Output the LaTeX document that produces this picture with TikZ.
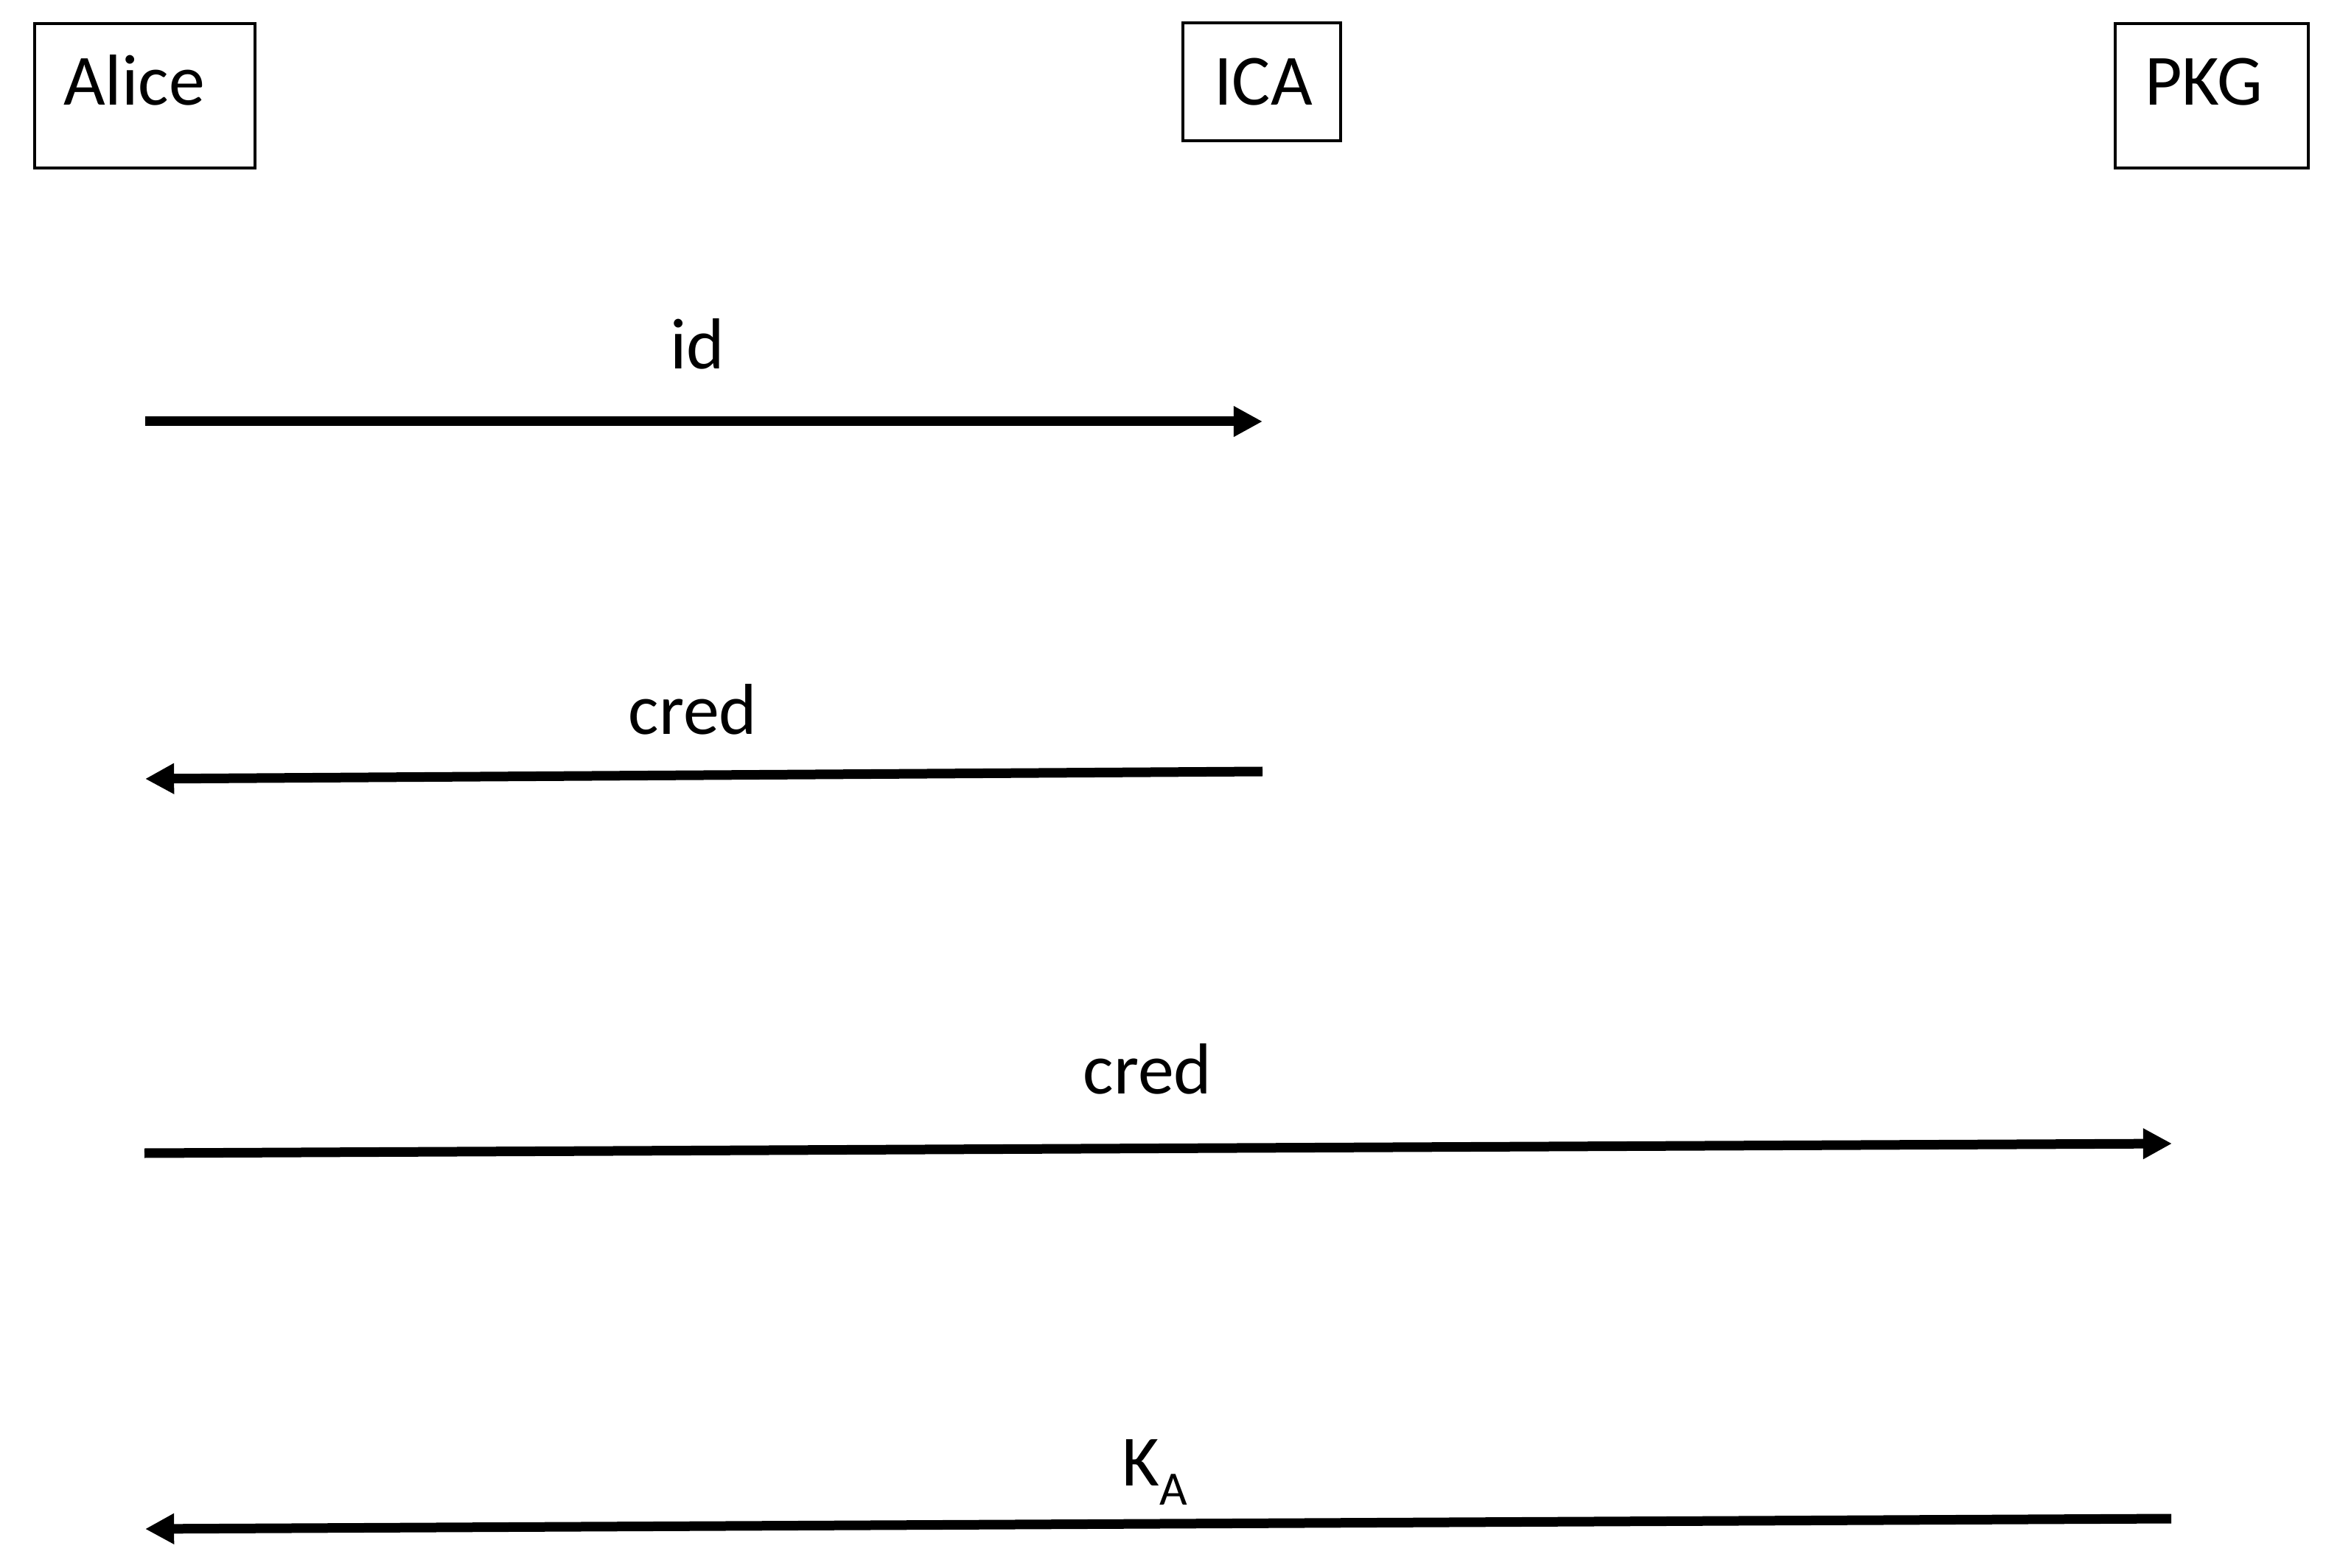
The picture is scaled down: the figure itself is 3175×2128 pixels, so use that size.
\documentclass[tikz,border=0pt]{standalone}
\usepackage{fontspec}
\setmainfont{Carlito}
\usetikzlibrary{arrows.meta}
\begin{document}
\begin{tikzpicture}[x=0.24pt,y=-0.24pt,
  actorbox/.style={draw=black,line width=0.96pt,rectangle,inner sep=0pt},
  lbl/.style={inner sep=0pt,anchor=base,font=\fontsize{23.5pt}{28pt}\selectfont},
  msg/.style={line width=3.12pt,-{Triangle[length=9.4pt,width=9.4pt]}}]
\useasboundingbox (0,0) rectangle (3175,2128);
% actor boxes
\node[actorbox,minimum width=71.76pt,minimum height=47.04pt] (alice) at (196.5,130) {};
\node[actorbox,minimum width=51.36pt,minimum height=38.4pt] (ica) at (1712,111) {};
\node[actorbox,minimum width=62.88pt,minimum height=47.04pt] (pkg) at (3001,130) {};
\node[lbl] (alicet) at (182,143) {Alice};
\node[lbl] (icat) at (1714,143) {ICA};
\node[lbl] (pkgt) at (2990,143) {PKG};
% message endpoints
\coordinate (m1a) at (197,572);
\coordinate (m1b) at (1713,572);
\coordinate (m2a) at (1713,1047);
\coordinate (m2b) at (197,1057);
\coordinate (m3a) at (196,1565);
\coordinate (m3b) at (2947,1552);
\coordinate (m4a) at (2946,2061);
\coordinate (m4b) at (197,2075);
\draw[msg] (m1a) -- (m1b);
\draw[msg] (m2a) -- (m2b);
\draw[msg] (m3a) -- (m3b);
\draw[msg] (m4a) -- (m4b);
% labels
\node[lbl] (l1) at (946,501) {id};
\node[lbl] (l2) at (940,997) {cred};
\node[lbl] (l3) at (1557,1484) {cred};
\node[lbl] (l4) at (1567,2016) {K\raisebox{-6.24pt}{\fontsize{15.6pt}{18pt}\selectfont A}};
\end{tikzpicture}
\end{document}
